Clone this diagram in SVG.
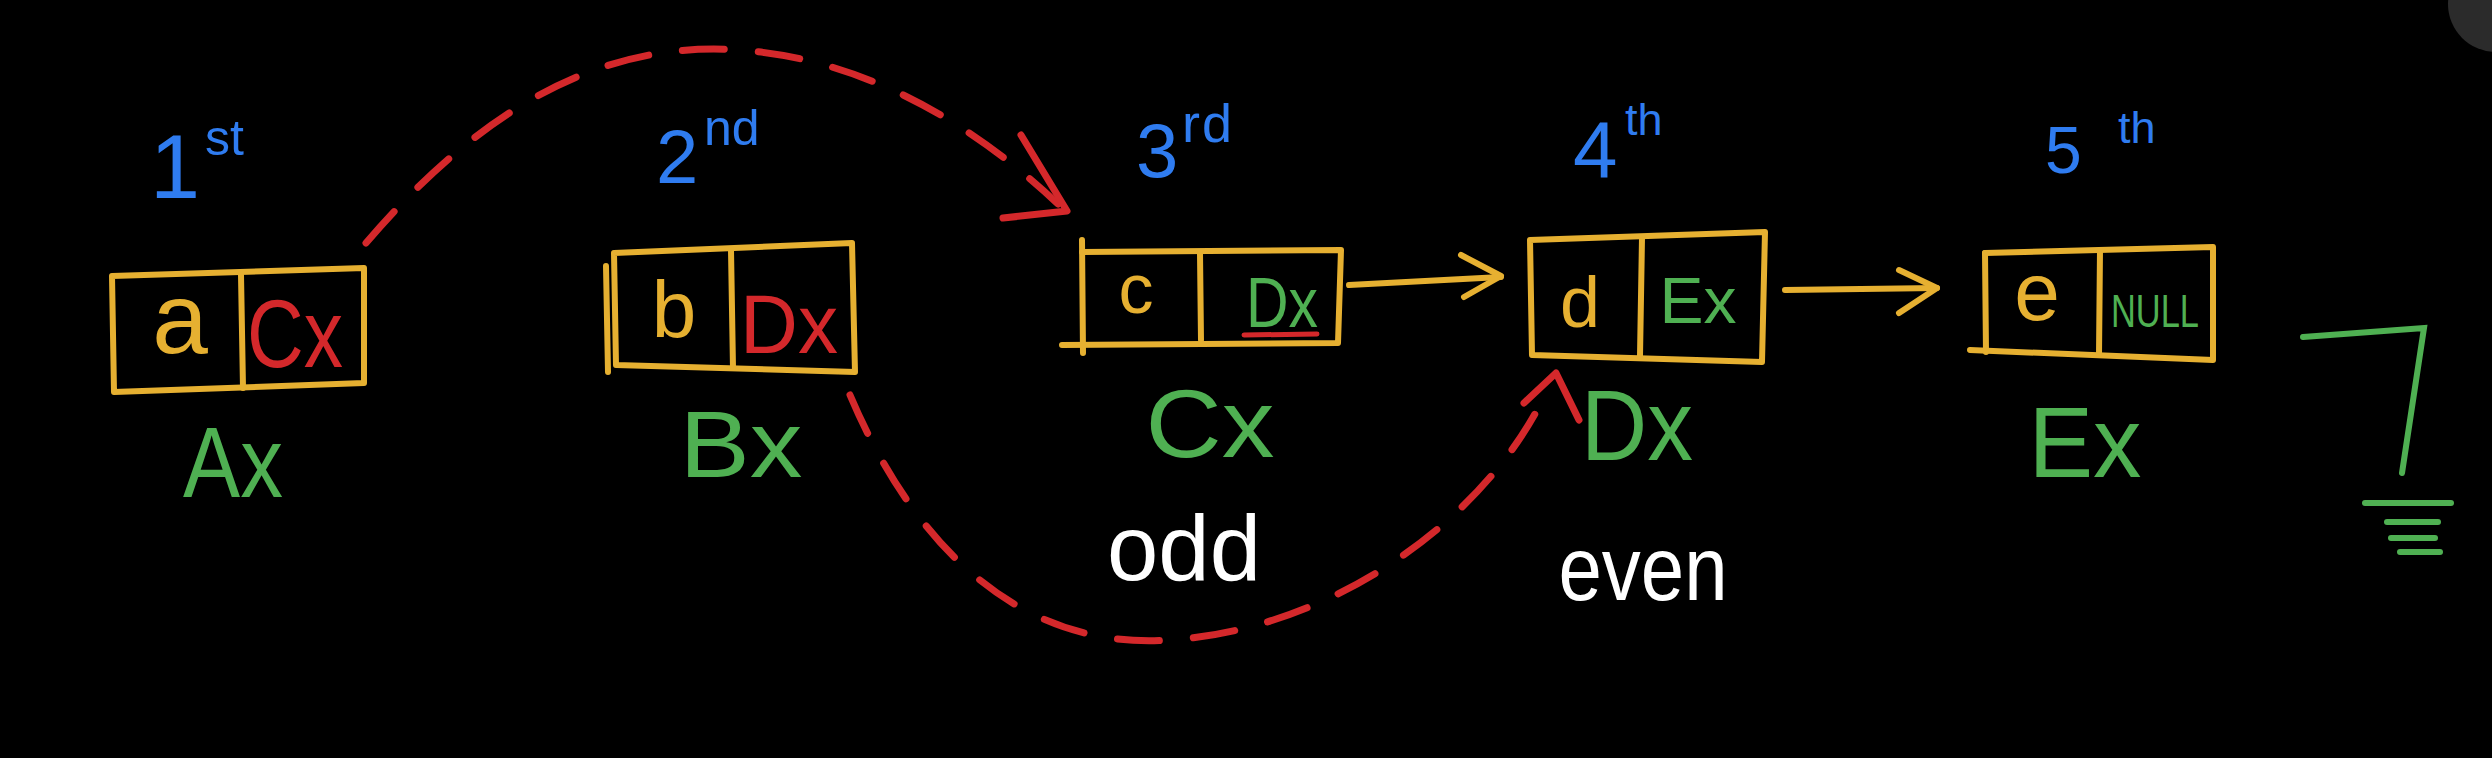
<svg xmlns="http://www.w3.org/2000/svg" width="2492" height="758" viewBox="0 0 2492 758">
<style>
.box{fill:none;stroke:#e6b031;stroke-width:6;stroke-linecap:round;stroke-linejoin:round}
.yarrow{fill:none;stroke:#e6b031;stroke-width:6;stroke-linecap:round;stroke-linejoin:round}
.rdash{fill:none;stroke:#d4282b;stroke-width:7;stroke-linecap:round;stroke-dasharray:42 34}
.rhead{fill:none;stroke:#d4282b;stroke-width:7;stroke-linecap:round;stroke-linejoin:round}
.gline{fill:none;stroke:#4fb052;stroke-width:6;stroke-linecap:round}
text{font-family:"Liberation Sans","DejaVu Sans",sans-serif;text-anchor:middle}
.val{fill:#e6b031}
.red{fill:#d4282b}
.green{fill:#4fb052}
.blue{fill:#2f7cf0;text-anchor:start}
.white{fill:#ffffff}
</style>
<rect x="0" y="0" width="2492" height="758" fill="#000000"/>
<circle cx="2496" cy="4" r="48" fill="#2b2b2b"/>

<g id="nodeA">
<text class="blue" font-size="90"><tspan x="150" y="198">1</tspan><tspan x="205" y="155" font-size="50">st</tspan></text>
<path class="box" d="M112,276 L364,268 L364,383 L114,392 Z"/>
<path class="box" d="M241,275 L243,388"/>
<text class="val" x="180" y="353" font-size="100">a</text>
<text class="red" x="295" y="367" font-size="96" textLength="96" lengthAdjust="spacingAndGlyphs">Cx</text>
<text class="green" x="233" y="497" font-size="100" textLength="100" lengthAdjust="spacingAndGlyphs">Ax</text>
</g>

<g id="nodeB">
<text class="blue" font-size="76"><tspan x="656" y="183">2</tspan><tspan x="704" y="145" font-size="50">nd</tspan></text>
<path class="box" d="M614,253 L852,243 L855,372 L616,365 Z"/>
<path class="box" d="M606,266 L608,372"/>
<path class="box" d="M731,250 L733,368"/>
<text class="val" x="674" y="337" font-size="80">b</text>
<text class="red" x="789" y="353" font-size="84" textLength="98" lengthAdjust="spacingAndGlyphs">Dx</text>
<text class="green" x="741" y="477" font-size="94" textLength="123" lengthAdjust="spacingAndGlyphs">Bx</text>
</g>

<g id="nodeC">
<text class="blue" font-size="76"><tspan x="1136" y="177">3</tspan><tspan x="1182" y="142" font-size="54" letter-spacing="2">rd</tspan></text>
<path class="box" d="M1082,252 L1341,250 L1338,343 L1062,345"/>
<path class="box" d="M1082,240 L1083,353"/>
<path class="box" d="M1200,254 L1201,340"/>
<text class="val" x="1136" y="313" font-size="70">c</text>
<text class="green" x="1282" y="327" font-size="70" textLength="72" lengthAdjust="spacingAndGlyphs">Dx</text>
<path d="M1244,335 L1317,334" fill="none" stroke="#d4282b" stroke-width="5" stroke-linecap="round"/>
<text class="green" x="1210" y="457" font-size="97" textLength="129" lengthAdjust="spacingAndGlyphs">Cx</text>
</g>

<g id="nodeD">
<text class="blue" font-size="80"><tspan x="1573" y="177">4</tspan><tspan x="1625" y="135" font-size="45">th</tspan></text>
<path class="box" d="M1530,240 L1765,232 L1762,362 L1532,355 Z"/>
<path class="box" d="M1642,238 L1640,356"/>
<text class="val" x="1580" y="327" font-size="72">d</text>
<text class="green" x="1698" y="323" font-size="64" textLength="77" lengthAdjust="spacingAndGlyphs">Ex</text>
<text class="green" x="1637" y="460" font-size="100" textLength="112" lengthAdjust="spacingAndGlyphs">Dx</text>
</g>

<g id="nodeE">
<text class="blue" font-size="66"><tspan x="2045" y="173">5</tspan><tspan x="2118" y="143" font-size="45">th</tspan></text>
<path class="box" d="M1985,253 L2213,247 L2213,360 L1970,350"/>
<path class="box" d="M1985,253 L1986,352"/>
<path class="box" d="M2100,250 L2099,355"/>
<text class="val" x="2037" y="320" font-size="82">e</text>
<text class="green" x="2155" y="327" font-size="47" textLength="88" lengthAdjust="spacingAndGlyphs">NULL</text>
<text class="green" x="2085" y="477" font-size="100" textLength="113" lengthAdjust="spacingAndGlyphs">Ex</text>
</g>

<g id="ground">
<path class="gline" d="M2303,337 L2424,328 L2402,473"/>
<path class="gline" d="M2365,503 L2451,503"/>
<path class="gline" d="M2387,522 L2438,522"/>
<path class="gline" d="M2391,538 L2435,538"/>
<path class="gline" d="M2400,552 L2440,552"/>
</g>

<g id="labels">
<text class="white" x="1184" y="580" font-size="92" textLength="154" lengthAdjust="spacingAndGlyphs">odd</text>
<text class="white" x="1643" y="600" font-size="90" textLength="169" lengthAdjust="spacingAndGlyphs">even</text>
</g>

<g id="connectors">
<path class="yarrow" d="M1349,285 L1501,277"/>
<path class="yarrow" d="M1461,255 L1501,276 L1464,297"/>
<path class="yarrow" d="M1785,290 L1937,288"/>
<path class="yarrow" d="M1899,270 L1937,288 L1899,313"/>
<path class="rdash" d="M366,243 C480,110 600,40 740,50 C880,60 990,140 1058,204"/>
<path class="rhead" d="M1021,135 L1067,211 L1003,218"/>
<path class="rdash" d="M850,395 C920,560 1030,650 1170,640 C1330,630 1490,520 1550,384"/>
<path class="rhead" d="M1524,403 L1556,373 L1579,420"/>
</g>
</svg>
